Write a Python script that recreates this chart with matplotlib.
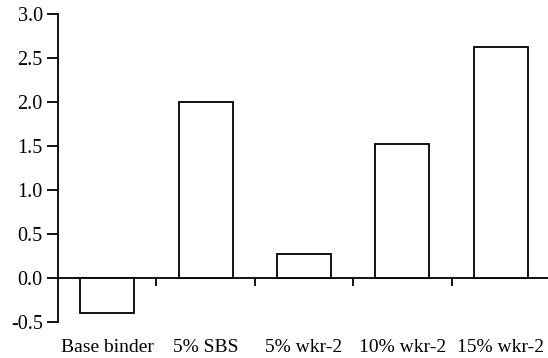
import numpy as np
import matplotlib.pyplot as plt

# data
categories = ["Base binder", "5% SBS", "5% wkr-2", "10% wkr-2", "15% wkr-2"]
values = [-0.40, 2.00, 0.27, 1.52, 2.63]
yticks = [-0.5, 0.0, 0.5, 1.0, 1.5, 2.0, 2.5, 3.0]

plt.rcParams["font.family"] = ["Liberation Serif", "DejaVu Serif"]

fig = plt.figure(figsize=(5.48, 3.58), dpi=100)
ax = fig.add_axes([58 / 548, 36 / 358, 492 / 548, 308 / 358])

x = np.arange(len(categories))
ax.bar(x, values, width=0.55, color="white", edgecolor="black", linewidth=1.3, zorder=3)

ax.set_xlim(-0.5, len(categories) - 0.5)
ax.set_ylim(-0.5, 3.0)
ax.set_yticks(yticks)
ax.set_yticklabels([f"{v:.1f}" for v in yticks], fontsize=14.5)

# x axis sits on zero, ticks between categories
ax.spines["bottom"].set_position(("data", 0))
ax.spines["top"].set_visible(False)
ax.spines["right"].set_visible(False)
ax.spines["left"].set_linewidth(1.3)
ax.spines["bottom"].set_linewidth(1.3)
ax.set_xticks(x[:-1] + 0.5)
ax.set_xticklabels([])
ax.tick_params(axis="x", direction="out", length=6, width=1.3)
ax.tick_params(axis="y", direction="out", length=8, width=1.3, pad=3)

for xi, name in zip(x, categories):
    ax.text(xi, -0.082, name, transform=ax.get_xaxis_transform(),
            ha="center", va="center", fontsize=14, clip_on=False)

fig.savefig("out.png", dpi=100)
